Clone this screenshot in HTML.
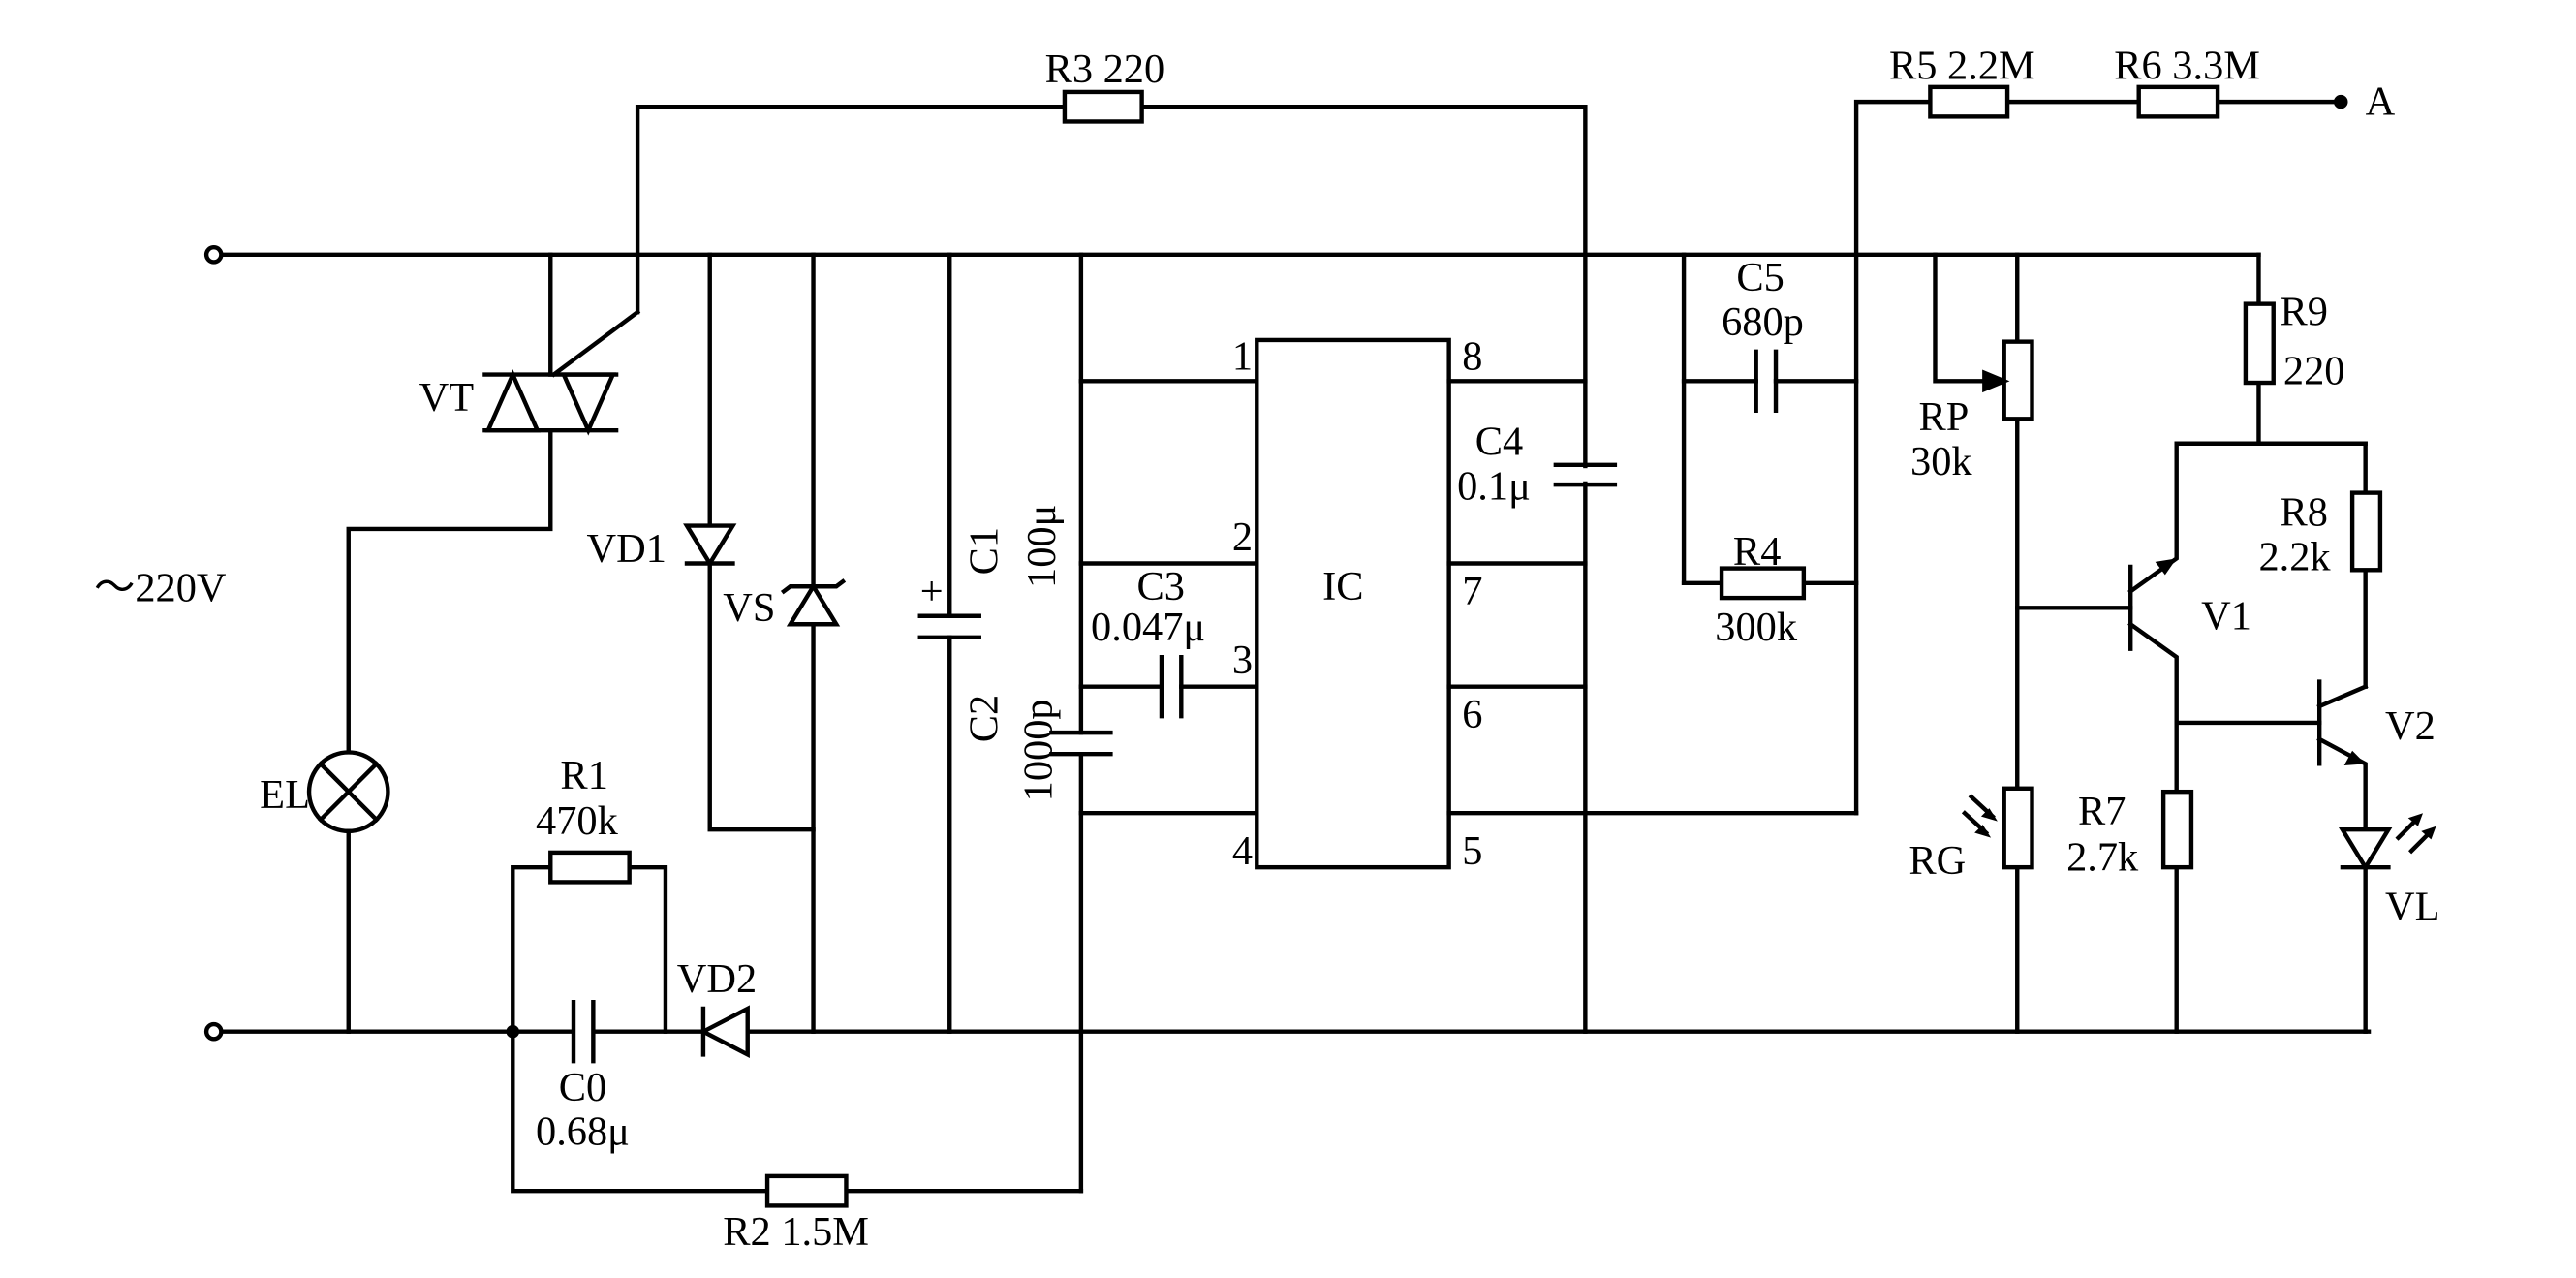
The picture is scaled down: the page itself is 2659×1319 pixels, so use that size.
<!DOCTYPE html>
<html><head><meta charset="utf-8"><style>
html,body{margin:0;padding:0;background:#fff;}
svg{display:block;}
text{font-family:"Liberation Serif",serif;font-size:25px;fill:#000;}
</style></head><body>
<svg width="2659" height="1319" viewBox="0 0 1568 778" xmlns="http://www.w3.org/2000/svg">
<g stroke="#000" stroke-width="2.6" fill="none" stroke-linecap="square">
<line x1="134" y1="155" x2="1375" y2="155"/>
<line x1="134" y1="628" x2="1442" y2="628"/>
<circle cx="130" cy="155" r="4.5" fill="#fff"/>
<circle cx="130" cy="628" r="4.5" fill="#fff"/>
<polyline points="388,190 388,65 965,65 965,628"/>
<rect x="648" y="56" width="47" height="18" fill="#fff"/>
<line x1="388" y1="190" x2="337" y2="228"/>
<line x1="335" y1="155" x2="335" y2="228"/>
<line x1="295" y1="228" x2="375" y2="228"/>
<line x1="295" y1="262" x2="375" y2="262"/>
<polygon points="297,262 312,228 327,262"/>
<polygon points="343,228 358,262 373,228"/>
<polyline points="335,262 335,322 212,322 212,457"/>
<circle cx="212" cy="482" r="24"/>
<line x1="195" y1="465" x2="229" y2="499"/>
<line x1="229" y1="465" x2="195" y2="499"/>
<line x1="212" y1="506" x2="212" y2="628"/>
<polyline points="432,155 432,505 495,505"/>
<polygon points="418,320 446,320 432,343" fill="#fff"/>
<line x1="418" y1="343" x2="446" y2="343"/>
<line x1="495" y1="155" x2="495" y2="628"/>
<polygon points="481,380 509,380 495,357" fill="#fff"/>
<polyline points="477,360 481,357 509,357 513,354"/>
<line x1="578" y1="155" x2="578" y2="375"/>
<line x1="578" y1="388" x2="578" y2="628"/>
<line x1="560" y1="375" x2="596" y2="375"/>
<line x1="560" y1="388" x2="596" y2="388"/>
<line x1="658" y1="155" x2="658" y2="446"/>
<line x1="658" y1="459" x2="658" y2="725"/>
<line x1="640" y1="446" x2="676" y2="446"/>
<line x1="640" y1="459" x2="676" y2="459"/>
<line x1="658" y1="232" x2="765" y2="232"/>
<line x1="658" y1="343" x2="765" y2="343"/>
<line x1="658" y1="418" x2="707" y2="418"/>
<line x1="719" y1="418" x2="765" y2="418"/>
<line x1="707" y1="400" x2="707" y2="436"/>
<line x1="719" y1="400" x2="719" y2="436"/>
<line x1="658" y1="495" x2="765" y2="495"/>
<rect x="765" y="207" width="117" height="321" fill="#fff"/>
<line x1="882" y1="232" x2="965" y2="232"/>
<line x1="882" y1="343" x2="965" y2="343"/>
<line x1="882" y1="418" x2="965" y2="418"/>
<line x1="882" y1="495" x2="1130" y2="495"/>
<line x1="947" y1="283" x2="983" y2="283"/>
<line x1="947" y1="295" x2="983" y2="295"/>
<rect x="955" y="285" width="20" height="8" fill="#fff" stroke="none"/>
<polyline points="1130,495 1130,62 1425,62"/>
<rect x="1175" y="53" width="47" height="18" fill="#fff"/>
<rect x="1302" y="53" width="48" height="18" fill="#fff"/>
<circle cx="1425" cy="62" r="3" fill="#000"/>
<line x1="1025" y1="155" x2="1025" y2="355"/>
<line x1="1025" y1="232" x2="1069" y2="232"/>
<line x1="1081" y1="232" x2="1130" y2="232"/>
<line x1="1069" y1="214" x2="1069" y2="250"/>
<line x1="1081" y1="214" x2="1081" y2="250"/>
<line x1="1025" y1="355" x2="1130" y2="355"/>
<rect x="1048" y="346" width="50" height="18" fill="#fff"/>
<line x1="1228" y1="155" x2="1228" y2="628"/>
<rect x="1220" y="208" width="17" height="47" fill="#fff"/>
<polyline points="1178,155 1178,232 1214,232"/>
<polygon points="1220,232 1208,227 1208,237" fill="#000"/>
<rect x="1220" y="480" width="17" height="48" fill="#fff"/>
<line x1="1200" y1="485" x2="1213" y2="497"/>
<line x1="1196" y1="495" x2="1209" y2="507"/>
<line x1="1228" y1="370" x2="1297" y2="370"/>
<line x1="1297" y1="345" x2="1297" y2="395"/>
<polyline points="1297,360 1325,340 1325,270 1440,270"/>
<polyline points="1297,380 1325,400 1325,628"/>
<line x1="1375" y1="155" x2="1375" y2="270"/>
<rect x="1367" y="185" width="17" height="48" fill="#fff"/>
<line x1="1440" y1="270" x2="1440" y2="418"/>
<rect x="1432" y="300" width="17" height="47" fill="#fff"/>
<line x1="1325" y1="440" x2="1412" y2="440"/>
<line x1="1412" y1="415" x2="1412" y2="465"/>
<line x1="1412" y1="430" x2="1440" y2="418"/>
<polyline points="1412,450 1440,465 1440,628"/>
<polygon points="1426,505 1454,505 1440,528" fill="#fff"/>
<line x1="1426" y1="528" x2="1454" y2="528"/>
<line x1="1460" y1="510" x2="1472" y2="498"/>
<line x1="1468" y1="518" x2="1480" y2="506"/>
<rect x="1317" y="482" width="17" height="46" fill="#fff"/>
<polyline points="312,628 312,528 405,528 405,628"/>
<rect x="335" y="519" width="48" height="18" fill="#fff"/>
<rect x="348" y="620" width="14" height="16" fill="#fff" stroke="none"/>
<line x1="349" y1="610" x2="349" y2="646"/>
<line x1="361" y1="610" x2="361" y2="646"/>
<polygon points="455,614 455,642 428,628" fill="#fff"/>
<line x1="428" y1="614" x2="428" y2="642"/>
<polyline points="312,628 312,725 658,725"/>
<rect x="467" y="716" width="48" height="18" fill="#fff"/>
</g>
<g fill="#000">
<circle cx="312" cy="628" r="4"/>
<polygon points="1475,495 1466,498 1472,503"/>
<polygon points="1483,503 1474,506 1480,511"/>
<polygon points="1216,500 1206,497 1211,492"/>
<polygon points="1212,510 1202,507 1207,502"/>
<polygon points="1325,340 1312,342 1318,350"/>
<polygon points="1440,465 1427,466 1432,457"/>
</g>
<text x="636" y="50">R3 220</text>
<text x="1150" y="48">R5 2.2M</text>
<text x="1287" y="48">R6 3.3M</text>
<text x="1440" y="70">A</text>
<text x="255" y="250">VT</text>
<text x="57" y="366">～220V</text>
<text x="158" y="492">EL</text>
<text x="357" y="342">VD1</text>
<text x="440" y="378">VS</text>
<text x="341" y="480">R1</text>
<text x="326" y="508">470k</text>
<text x="340" y="670">C0</text>
<text x="326" y="697">0.68μ</text>
<text x="412" y="604">VD2</text>
<text x="440" y="758">R2 1.5M</text>
<text transform="translate(607,350) rotate(-90)">C1</text>
<text transform="translate(642,358) rotate(-90)">100μ</text>
<text transform="translate(607,452) rotate(-90)">C2</text>
<text transform="translate(640,488) rotate(-90)">1000p</text>
<text x="560" y="368" font-size="20">+</text>
<text x="692" y="365">C3</text>
<text x="664" y="390">0.047μ</text>
<text x="805" y="365">IC</text>
<text x="750" y="225">1</text>
<text x="750" y="335">2</text>
<text x="750" y="410">3</text>
<text x="750" y="526">4</text>
<text x="890" y="225">8</text>
<text x="890" y="368">7</text>
<text x="890" y="443">6</text>
<text x="890" y="526">5</text>
<text x="898" y="277">C4</text>
<text x="887" y="304">0.1μ</text>
<text x="1057" y="177">C5</text>
<text x="1048" y="204">680p</text>
<text x="1055" y="344">R4</text>
<text x="1044" y="390">300k</text>
<text x="1168" y="262">RP</text>
<text x="1163" y="289">30k</text>
<text x="1162" y="532">RG</text>
<text x="1388" y="198">R9</text>
<text x="1390" y="234">220</text>
<text x="1388" y="320">R8</text>
<text x="1375" y="347">2.2k</text>
<text x="1340" y="383">V1</text>
<text x="1452" y="450">V2</text>
<text x="1265" y="502">R7</text>
<text x="1258" y="530">2.7k</text>
<text x="1452" y="560">VL</text>
</svg>
</body></html>
